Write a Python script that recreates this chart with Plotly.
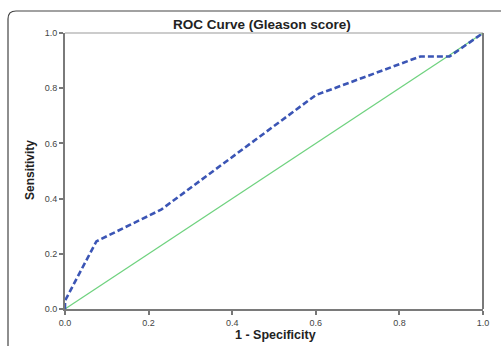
import plotly.graph_objects as go

# ROC curve data (1 - specificity, sensitivity)
fpr = [0.0, 0.0, 0.075, 0.23, 0.60, 0.85, 0.92, 1.0]
tpr = [0.0, 0.03, 0.245, 0.36, 0.775, 0.915, 0.915, 1.0]
ref_x = [0.0, 1.0]
ref_y = [0.0, 1.0]
tick_vals = [0.0, 0.2, 0.4, 0.6, 0.8, 1.0]
tick_text = ["0.0", "0.2", "0.4", "0.6", "0.8", "1.0"]

W, H = 501, 346
L, R, T, B = 65, 18, 33, 37
pw, ph = W - L - R, H - T - B

def px(x):
    return (x - L) / pw

def py(y):
    return (H - B - y) / ph

fig = go.Figure()
fig.add_trace(go.Scatter(x=ref_x, y=ref_y, mode="lines",
                         line=dict(color="#6fd27f", width=1.2),
                         cliponaxis=False, showlegend=False))
fig.add_trace(go.Scatter(x=fpr, y=tpr, mode="lines",
                         line=dict(color="#3b55b5", width=2.6, dash="6px,3px"),
                         cliponaxis=False, showlegend=False))

axis_common = dict(range=[0, 1], tickvals=tick_vals, ticktext=tick_text,
                   ticks="outside", ticklen=4, tickwidth=1.5, tickcolor="#777",
                   showline=True, linecolor="#7a7a7a", linewidth=2,
                   showgrid=False, zeroline=False,
                   tickfont=dict(family="Liberation Sans, Arial", size=9, color="#444"))
fig.update_xaxes(**axis_common)
fig.update_yaxes(**axis_common)

shapes = [
    # top border of plot
    dict(type="line", xref="paper", yref="paper", x0=0, x1=1, y0=1, y1=1,
         line=dict(color="#999", width=1.2)),
    # right border of plot
    dict(type="line", xref="paper", yref="paper", x0=1, x1=1, y0=0, y1=1,
         line=dict(color="#7a7a7a", width=2)),
    # outer rounded frame
    dict(type="path", xref="paper", yref="paper",
         path=(f"M {px(505)} {py(11)} L {px(16)} {py(11)} "
               f"Q {px(8)} {py(11)} {px(8)} {py(19)} L {px(8)} {py(350)}"),
         line=dict(color="#444", width=1.2)),
]

annotations = [
    dict(text="<b>ROC Curve (Gleason score)</b>", xref="paper", yref="paper",
         x=px(262), y=py(24), showarrow=False, xanchor="center", yanchor="middle",
         font=dict(family="Liberation Sans, Arial", size=13.5, color="#222")),
    dict(text="<b>1 - Specificity</b>", xref="paper", yref="paper",
         x=px(275), y=py(335), showarrow=False, xanchor="center", yanchor="middle",
         font=dict(family="Liberation Sans, Arial", size=12.5, color="#222")),
    dict(text="<b>Sensitivity</b>", xref="paper", yref="paper",
         x=px(30), y=py(170), showarrow=False, xanchor="center", yanchor="middle",
         textangle=-90,
         font=dict(family="Liberation Sans Narrow, Arial Narrow, Liberation Sans", size=12, color="#222")),
]

fig.update_layout(width=W, height=H, margin=dict(l=L, r=R, t=T, b=B),
                  paper_bgcolor="white", plot_bgcolor="white",
                  shapes=shapes, annotations=annotations, showlegend=False)

fig.write_html("out.html")
